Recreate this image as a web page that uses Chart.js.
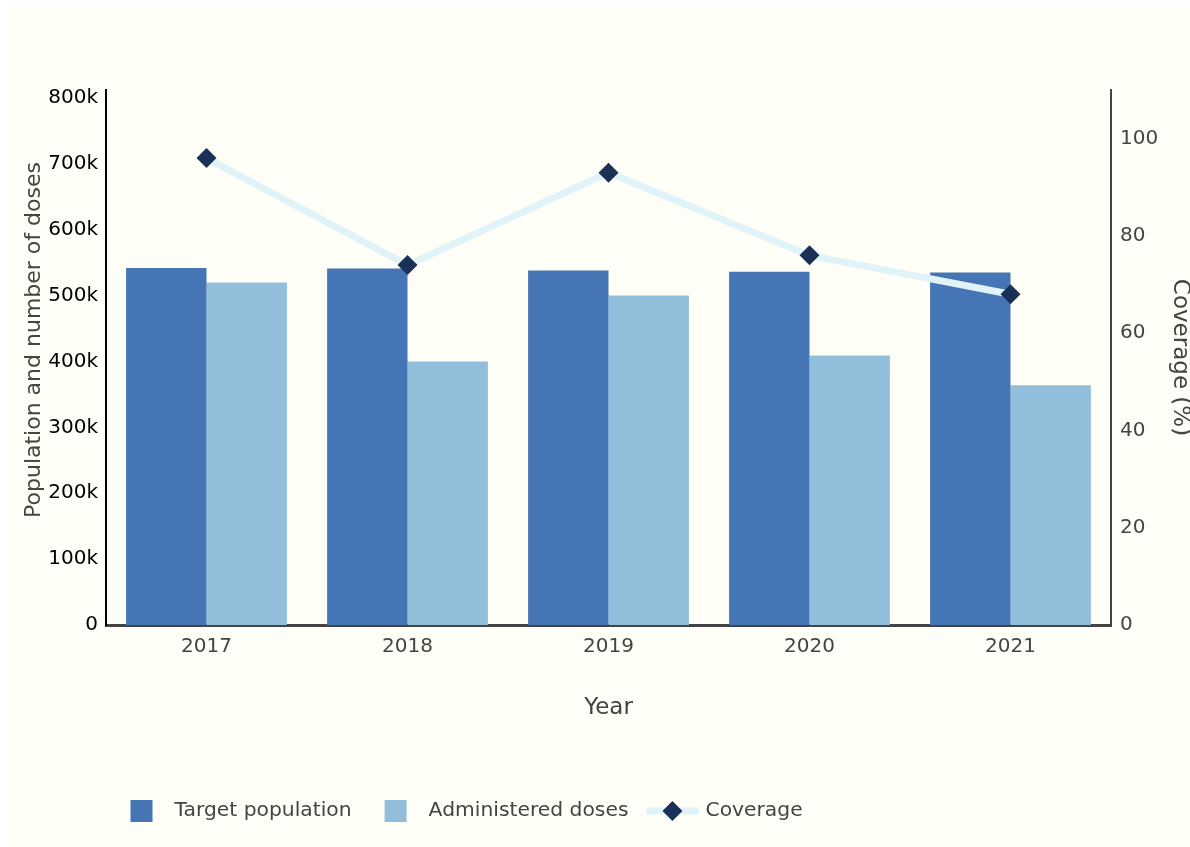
<!DOCTYPE html>
<html>
<head>
<meta charset="utf-8">
<script src="https://cdn.jsdelivr.net/npm/chart.js@4"></script>
<style>
  html, body { margin: 0; padding: 0; background: #ffffff; overflow: hidden; }
  #wrap { position: absolute; left: 9px; top: 5px; width: 1200px; height: 842px; background: #fffff7; }
</style>
</head>
<body>
<div id="wrap"><canvas id="coverageChart"></canvas></div>
<script>
// Immunization data per year
const years = ['2017', '2018', '2019', '2020', '2021'];
const targetPopulation = [542000, 541000, 538000, 536000, 535000];
const administeredDoses = [520000, 400000, 500000, 409000, 364000];
const coveragePct = [96, 74, 93, 76, 68];

// Tick values for the two y axes
const doseTicks = [0, 100000, 200000, 300000, 400000, 500000, 600000, 700000, 800000];
const coverageTicks = [0, 20, 40, 60, 80, 100];

const FONT = 'DejaVu Sans';

// Legend drawn along the bottom, plotly-style
const bottomLegend = {
    id: 'bottomLegend',
    afterDraw(chart) {
        const ctx = chart.ctx;
        const y = 806;
        let cx = 132.5;
        ctx.save();
        ctx.font = '20.3px "' + FONT + '"';
        ctx.textBaseline = 'middle';
        ctx.textAlign = 'left';
        chart.data.datasets.forEach(ds => {
            if (ds.type === 'line') {
                ctx.strokeStyle = ds.borderColor;
                ctx.lineWidth = 7;
                ctx.beginPath();
                ctx.moveTo(cx - 26, y);
                ctx.lineTo(cx + 26, y);
                ctx.stroke();
                ctx.fillStyle = ds.pointBackgroundColor;
                ctx.beginPath();
                ctx.moveTo(cx, y - 10);
                ctx.lineTo(cx + 10, y);
                ctx.lineTo(cx, y + 10);
                ctx.lineTo(cx - 10, y);
                ctx.closePath();
                ctx.fill();
            } else {
                ctx.fillStyle = ds.backgroundColor;
                ctx.fillRect(cx - 11, y - 11, 22, 22);
            }
            ctx.fillStyle = '#444444';
            ctx.fillText(ds.label, cx + 33, y);
            cx += 33 + ctx.measureText(ds.label).width + 44;
        });
        ctx.restore();
    }
};

const ctx = document.getElementById('coverageChart').getContext('2d');

new Chart(ctx, {
    type: 'bar',
    data: {
        labels: years,
        datasets: [
            {
                label: 'Target population',
                data: targetPopulation,
                yAxisID: 'y',
                backgroundColor: '#4575b4',
                barPercentage: 1,
                categoryPercentage: 0.8,
                order: 1
            },
            {
                label: 'Administered doses',
                data: administeredDoses,
                yAxisID: 'y',
                backgroundColor: '#91bfdb',
                barPercentage: 1,
                categoryPercentage: 0.8,
                order: 1
            },
            {
                type: 'line',
                label: 'Coverage',
                data: coveragePct,
                yAxisID: 'y1',
                borderColor: '#e0f3f8',
                borderWidth: 7,
                pointStyle: 'rectRot',
                pointRadius: 10,
                pointHoverRadius: 10,
                pointBorderWidth: 0,
                pointBackgroundColor: '#1a3056',
                tension: 0,
                order: 0
            }
        ]
    },
    options: {
        maintainAspectRatio: false,
        animation: false,
        events: [],
        layout: {
            autoPadding: false,
            padding: { top: 85, left: 0, right: 0, bottom: 92 }
        },
        plugins: {
            legend: { display: false },
            tooltip: { enabled: false }
        },
        scales: {
            x: {
                grid: { display: false, drawTicks: false, tickLength: 0 },
                border: { display: true, color: '#444444', width: 3 },
                ticks: { color: '#444444', padding: 10, font: { family: FONT, size: 20 } },
                title: {
                    display: true,
                    text: 'Year',
                    color: '#444444',
                    font: { family: FONT, size: 23 },
                    padding: { top: 0, bottom: 33 }
                },
                afterFit: scale => { scale.height = 130; }
            },
            y: {
                position: 'left',
                min: 0,
                max: 812000,
                grid: { display: false, drawTicks: false, tickLength: 0 },
                border: { display: true, color: '#000000', width: 2 },
                afterBuildTicks: scale => { scale.ticks = doseTicks.map(v => ({ value: v })); },
                ticks: {
                    color: '#000000',
                    padding: 8,
                    font: { family: FONT, size: 20 },
                    callback: v => v === 0 ? '0' : (v / 1000) + 'k'
                },
                title: {
                    display: true,
                    // leading spaces nudge the rotated title towards the top
                    text: '     Population and number of doses',
                    color: '#444444',
                    font: { family: FONT, size: 22 },
                    padding: { top: 12, bottom: 0 }
                },
                afterFit: scale => { scale.width = 97; }
            },
            y1: {
                position: 'right',
                min: 0,
                max: 110,
                grid: { display: false, drawTicks: false, tickLength: 0 },
                border: { display: true, color: '#444444', width: 2 },
                afterBuildTicks: scale => { scale.ticks = coverageTicks.map(v => ({ value: v })); },
                ticks: {
                    color: '#444444',
                    padding: 9,
                    font: { family: FONT, size: 20 }
                },
                title: {
                    display: true,
                    text: 'Coverage (%)',
                    color: '#444444',
                    font: { family: FONT, size: 23 },
                    padding: { top: 15, bottom: 0 }
                },
                afterFit: scale => { scale.width = 98; }
            }
        }
    },
    plugins: [bottomLegend]
});
</script>
</body>
</html>
